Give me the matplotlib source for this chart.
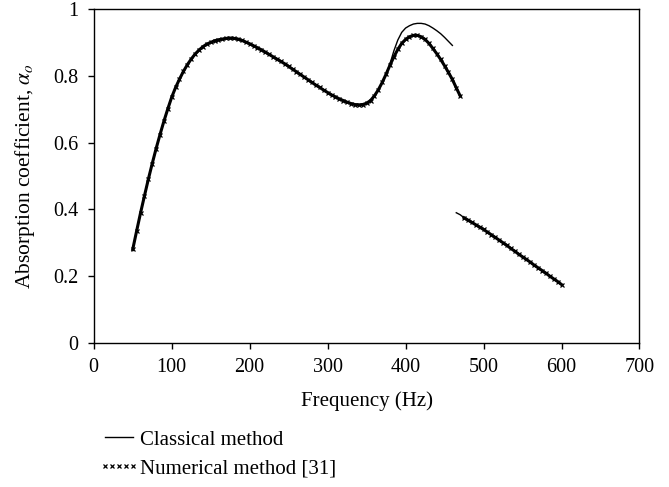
import matplotlib.pyplot as plt
from matplotlib.lines import Line2D
import numpy as np

plt.rcParams['font.family'] = 'Liberation Serif'
plt.rcParams['mathtext.fontset'] = 'stix'

# Numerical method [31], first branch
f_num1 = np.arange(50, 471, 5)
a_num1 = [0.280, 0.335, 0.389, 0.440, 0.490, 0.537, 0.582, 0.624, 0.664, 0.701,
          0.736, 0.765, 0.790, 0.813, 0.833, 0.850, 0.865, 0.877, 0.887, 0.895,
          0.900, 0.905, 0.908, 0.910, 0.912, 0.913, 0.912, 0.910, 0.906, 0.901,
          0.896, 0.890, 0.884, 0.878, 0.871, 0.864, 0.857, 0.850, 0.843, 0.836,
          0.828, 0.820, 0.812, 0.804, 0.796, 0.788, 0.780, 0.772, 0.765, 0.757,
          0.750, 0.743, 0.737, 0.731, 0.726, 0.721, 0.717, 0.714, 0.713, 0.714,
          0.718, 0.726, 0.740, 0.758, 0.780, 0.805, 0.832, 0.857, 0.879, 0.897,
          0.909, 0.917, 0.921, 0.921, 0.917, 0.909, 0.897, 0.882, 0.866, 0.849,
          0.830, 0.810, 0.789, 0.764, 0.740]

# Numerical method [31], second branch
f_num2 = np.arange(475, 601, 5)
a_num2 = [0.375, 0.368, 0.361, 0.354, 0.347, 0.340, 0.332, 0.324, 0.316, 0.308,
          0.300, 0.292, 0.283, 0.275, 0.266, 0.258, 0.250, 0.242, 0.233, 0.225,
          0.217, 0.209, 0.200, 0.192, 0.184, 0.175]

# Classical method, first branch (same as numerical up to 375 Hz)
f_cls1 = np.arange(50, 461, 5)
a_cls1 = a_num1[:66] + [0.836, 0.875, 0.907, 0.930, 0.943, 0.950, 0.955, 0.957,
                        0.957, 0.955, 0.950, 0.943, 0.935, 0.926, 0.915, 0.903,
                        0.891]

# Classical method, second branch
f_cls2 = np.arange(465, 601, 5)
a_cls2 = [0.390, 0.384] + a_num2

fig = plt.figure(figsize=(6.69, 4.87), dpi=100)
ax = fig.add_axes([0.1401, 0.2957, 0.8158, 0.6858])

ax.plot(f_cls1, a_cls1, color='black', lw=1.0)
ax.plot(f_cls2, a_cls2, color='black', lw=1.0)
# dense numerical points: thick trace with small crosses
for f, a in [(f_num1, a_num1), (f_num2, a_num2)]:
    ax.plot(f, a, color='black', lw=2.2, marker='x', ms=3.5, mew=0.9)

ax.set_xlim(0, 700)
ax.set_ylim(0, 1)
ax.set_xticks(range(0, 701, 100))
ax.set_yticks([0, 0.2, 0.4, 0.6, 0.8, 1])
ax.set_yticklabels(['0', '0.2', '0.4', '0.6', '0.8', '1'])
ax.tick_params(direction='out', length=4.5, width=1, labelsize=14.5, colors='black', pad=6.5)
for s in ax.spines.values():
    s.set_linewidth(1)

ax.set_xlabel('Frequency (Hz)', fontsize=15, labelpad=10)
ax.set_ylabel(r'Absorption coefficient, $\alpha_o$', fontsize=15.5, labelpad=12)

handles = [Line2D([], [], color='black', lw=1.0),
           Line2D([], [], ls='none', marker='x', ms=3, mew=0.9, color='black')]
fig.legend(handles, ['Classical method', 'Numerical method [31]'],
           loc='upper left', bbox_to_anchor=(0.1477, 0.117), frameon=False,
           fontsize=15, numpoints=5, handlelength=1.95, handletextpad=0.05,
           labelspacing=0.45, borderaxespad=0, borderpad=0)

fig.savefig('out.png', dpi=100)
